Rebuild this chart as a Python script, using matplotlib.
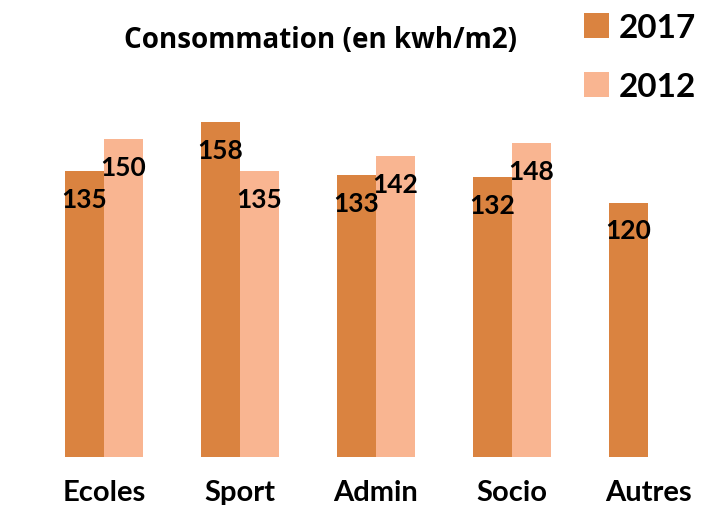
import numpy as np
import matplotlib.pyplot as plt

categories = ['Ecoles', 'Sport', 'Admin', 'Socio', 'Autres']
conso_2017 = [135, 158, 133, 132, 120]
conso_2012 = [150, 135, 142, 148, np.nan]

col_2017 = '#DA8340'
col_2012 = '#F9B591'

plt.rcParams['font.family'] = ['Lato', 'DejaVu Sans']
plt.rcParams['font.weight'] = 'bold'

fig = plt.figure(figsize=(7.01, 5.06), dpi=100)
ax = fig.add_axes([0, 48 / 506, 1, 1 - 48 / 506])

x = np.arange(len(categories))
w = 0.285
b1 = ax.bar(x - w / 2, conso_2017, w, color=col_2017, label='2017')
b2 = ax.bar(x + w / 2, conso_2012, w, color=col_2012, label='2012')

for bars, vals in [(b1, conso_2017), (b2, conso_2012)]:
    for r, v in zip(bars, vals):
        if np.isnan(v):
            continue
        ax.annotate(f'{v:.0f}', (r.get_x() + r.get_width() / 2, v),
                    xytext=(0, -20), textcoords='offset points',
                    ha='center', va='center', fontsize=19, fontweight='bold')

ax.set_xlim(-104 / 136, (701 - 104) / 136)
ax.set_ylim(0, 458 / 2.12)
ax.set_xticks(x)
ax.set_xticklabels(categories, fontsize=21, fontweight='bold')
ax.tick_params(axis='x', length=0, pad=16)
ax.set_yticks([])
for s in ax.spines.values():
    s.set_visible(False)

fig.text(320 / 701, 1 - 41 / 506, 'Consommation (en kwh/m2)', ha='center', va='center',
         fontsize=20, fontweight='bold', family=['Open Sans', 'DejaVu Sans'])

fig.legend(handles=[b1, b2], loc='upper right', bbox_to_anchor=(1.0, 1 - 9 / 506), frameon=False,
           prop={'size': 24, 'weight': 'bold'}, handlelength=0.75, handleheight=0.75,
           labelspacing=0.9, handletextpad=0.3, borderpad=0.15, borderaxespad=0)

fig.savefig('out.png', dpi=100)
